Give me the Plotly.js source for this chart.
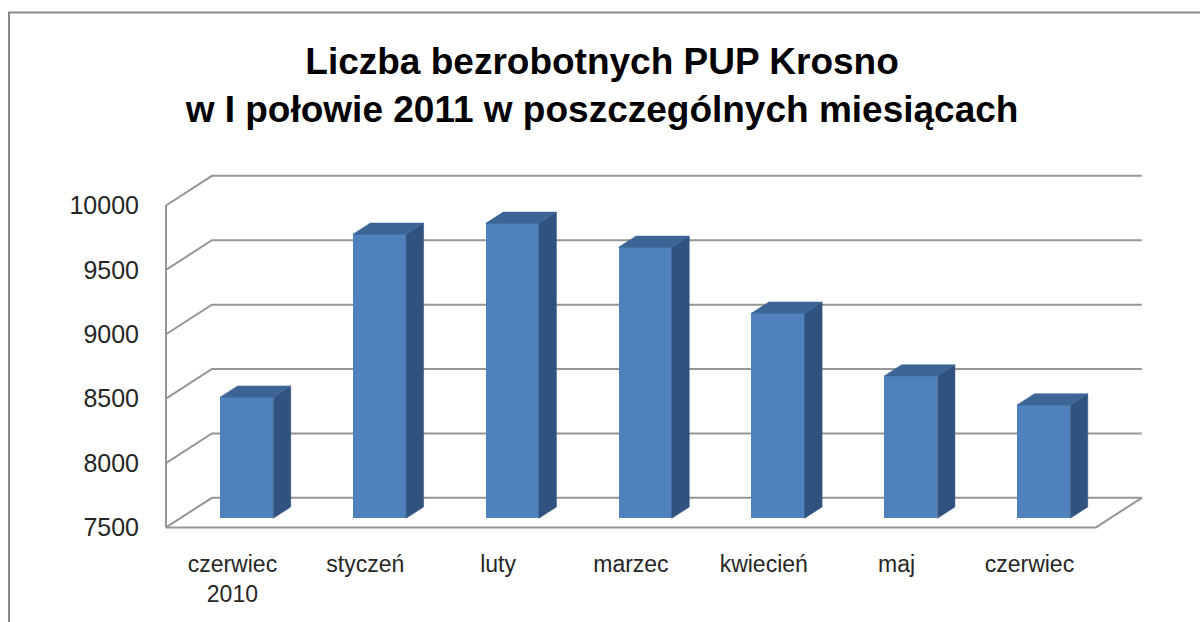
<!DOCTYPE html>
<html>
<head>
<meta charset="utf-8">
<script src="https://cdn.plot.ly/plotly-3.0.1.min.js"></script>
<style>html,body{margin:0;padding:0;background:#fff;}#chart{width:1200px;height:622px;}</style>
</head>
<body>
<div id="chart"></div>
<script>
// ---- data ----
const categories = ['czerwiec<br>2010', 'styczeń', 'luty', 'marzec', 'kwiecień', 'maj', 'czerwiec'];
const values = [8440, 9705, 9790, 9604, 9092, 8605, 8380];
const yTicks = [7500, 8000, 8500, 9000, 9500, 10000];
const titleLines = ['Liczba bezrobotnych PUP Krosno', 'w I połowie 2011 w poszczególnych miesiącach'];

// ---- 3D-look geometry (in axis units) ----
const W = 1200, H = 622;
const pxPerCat = 132.86, pxPerUnit = 0.1288;
const frontLeftPx = 166, frontBottomPx = 527;
const xRange = [-0.53, 6.87];
const yRange = [7480, 10260];
const DX = 0.346, DY = 230;          // depth of back wall
const f1 = 0.31;                     // bar front plane position in depth
const bf = 0.38;                     // bar depth fraction
const barW = 0.401;
const yBase = yTicks[0];

const L = frontLeftPx + (xRange[0] + 0.5) * pxPerCat;
const Rpx = frontLeftPx + (xRange[1] + 0.5) * pxPerCat;
const Bpx = frontBottomPx + (yBase - yRange[0]) * pxPerUnit;
const Tpx = frontBottomPx - (yRange[1] - yBase) * pxPerUnit;

const n = categories.length;
const idx = categories.map((_, i) => i);
const xFront = idx.map(i => i + f1 * DX);
const baseFront = yBase + f1 * DY;
const bdx = bf * DX, bdy = bf * DY;

// side and top faces
const sideX = [], sideY = [], topX = [], topY = [];
values.forEach((v, i) => {
  const xl = xFront[i] - barW / 2, xr = xFront[i] + barW / 2;
  const t = v + f1 * DY;
  sideX.push(xr, xr + bdx, xr + bdx, xr, xr, null);
  sideY.push(baseFront, baseFront + bdy, t + bdy, t, baseFront, null);
  topX.push(xl, xl + bdx, xr + bdx, xr, xl, null);
  topY.push(t, t + bdy, t + bdy, t, t, null);
});

const traces = [
  {
    type: 'bar', x: xFront, y: values.map(v => v - yBase), base: baseFront,
    width: barW, marker: {color: '#4f81bd', line: {width: 0}},
    hoverinfo: 'skip', showlegend: false
  },
  {
    type: 'scatter', mode: 'lines', x: sideX, y: sideY, fill: 'toself',
    fillcolor: '#30527f', line: {width: 0.5, color: '#30527f'}, hoverinfo: 'skip', showlegend: false
  },
  {
    type: 'scatter', mode: 'lines', x: topX, y: topY, fill: 'toself',
    fillcolor: '#3c6596', line: {width: 0.5, color: '#3c6596'}, hoverinfo: 'skip', showlegend: false
  }
];

// gridlines / walls
const gridColor = '#969696';
const shapes = [];
const xl0 = -0.5, xr0 = n - 0.5;
yTicks.forEach(v => {
  shapes.push({
    type: 'path', xref: 'x', yref: 'y', layer: 'below',
    path: `M ${xl0},${v} L ${xl0 + DX},${v + DY} L ${xr0 + DX},${v + DY}`,
    line: {color: gridColor, width: 2}
  });
});
// floor front edge and right edge
shapes.push({
  type: 'path', xref: 'x', yref: 'y', layer: 'below',
  path: `M ${xl0},${yBase} L ${xr0},${yBase} L ${xr0 + DX},${yBase + DY}`,
  line: {color: gridColor, width: 2}
});
// left front vertical edge
shapes.push({
  type: 'line', xref: 'x', yref: 'y', layer: 'below',
  x0: xl0, x1: xl0, y0: yBase, y1: yTicks[yTicks.length - 1],
  line: {color: gridColor, width: 2}
});
// outer frame (decoration)
const pw = Rpx - L, ph = Bpx - Tpx;
const px2paperX = p => (p - L) / pw;
const py2paperY = p => (Bpx - p) / ph;
shapes.push({
  type: 'path', xref: 'paper', yref: 'paper', layer: 'below',
  path: `M ${px2paperX(9)},${py2paperY(640)} L ${px2paperX(9)},${py2paperY(12)} L ${px2paperX(1215)},${py2paperY(12)}`,
  line: {color: '#8a8a8a', width: 2}
});

const layout = {
  width: W, height: H,
  paper_bgcolor: '#ffffff', plot_bgcolor: 'rgba(0,0,0,0)',
  margin: {l: L, r: W - Rpx, t: Tpx, b: H - Bpx, pad: 0},
  title: {
    text: titleLines.join('<br>'),
    font: {family: 'Liberation Sans, Arial, sans-serif', size: 37, color: '#000', weight: 'bold'},
    x: 0.5017, xref: 'container', xanchor: 'center',
    y: 1 - 74 / H, yref: 'container', yanchor: 'middle'
  },
  xaxis: {
    type: 'linear', range: xRange, tickmode: 'array', tickvals: idx, ticktext: categories,
    showgrid: false, zeroline: false, showline: false, ticks: '',
    ticklabelstandoff: 18,
    tickfont: {family: 'Liberation Sans, Arial, sans-serif', size: 23, color: '#262626'},
    fixedrange: true
  },
  yaxis: {
    range: yRange, tickmode: 'array', tickvals: yTicks, ticktext: yTicks.map(String),
    showgrid: false, zeroline: false, showline: false, ticks: '',
    ticklabelstandoff: 22,
    tickfont: {family: 'Liberation Sans, Arial, sans-serif', size: 25, color: '#262626'},
    fixedrange: true
  },
  shapes: shapes,
  bargap: 0,
  showlegend: false
};

Plotly.newPlot('chart', traces, layout, {displayModeBar: false, staticPlot: true});
</script>
</body>
</html>
